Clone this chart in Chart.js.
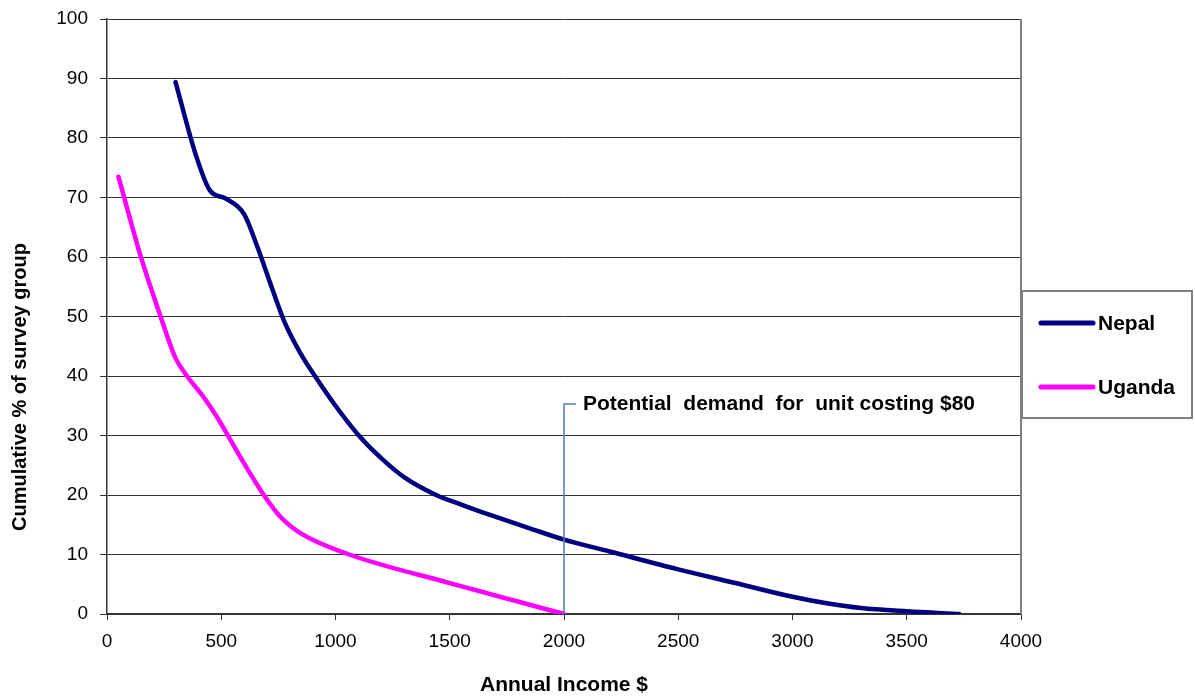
<!DOCTYPE html>
<html>
<head>
<meta charset="utf-8">
<script src="https://cdn.jsdelivr.net/npm/chart.js@4"></script>
<style>
  html, body { margin: 0; padding: 0; background: #fff; }
  #wrap { width: 1195px; height: 699px; }
</style>
</head>
<body>
<div id="wrap"><canvas id="c" width="1195" height="699"></canvas></div>
<script>
// income ($) vs cumulative % of survey group
const nepalIncome = [300, 390, 450, 520, 600, 660, 720, 780, 850, 910, 1000, 1100, 1200, 1300, 1440, 1550, 1680, 1850, 2000, 2200, 2500, 2750, 3000, 3150, 3300, 3500, 3730];
const nepalPct    = [89.4, 77, 71.2, 69.8, 67.2, 61.5, 55, 48.8, 43.6, 40, 35, 30.1, 26.2, 23, 20, 18.4, 16.6, 14.4, 12.5, 10.5, 7.5, 5.2, 2.9, 1.8, 1, 0.45, 0];

const ugandaIncome = [50, 150, 230, 300, 350, 420, 480, 580, 690, 760, 850, 1060, 1500, 2000];
const ugandaPct    = [73.5, 59.8, 50.5, 43, 40, 36.6, 33.2, 26.6, 19.8, 16.3, 13.5, 10, 5.2, 0];

const seriesNames = ['Nepal', 'Uganda'];
const seriesColors = ['#000080', '#ff00ff'];

const xTicks = [0, 500, 1000, 1500, 2000, 2500, 3000, 3500, 4000];
const yTicks = [0, 10, 20, 30, 40, 50, 60, 70, 80, 90, 100];

const xTitle = 'Annual Income $';
const yTitle = 'Cumulative % of survey group';

// annotation: marker at $2000 going up to ~35%
const markerIncome = 2000;
const markerTop = 35.3;
const markerText = 'Potential  demand  for  unit costing $80';

const FONT = '"Liberation Sans", Arial, sans-serif';

const toPoints = (xs, ys) => xs.map((x, i) => ({ x: x, y: ys[i] }));

const annotationPlugin = {
  id: 'demandNote',
  afterDatasetsDraw(chart) {
    const { ctx, scales: { x, y }, chartArea } = chart;
    const px = x.getPixelForValue(markerIncome);
    const py0 = y.getPixelForValue(0);
    const py1 = y.getPixelForValue(markerTop);
    ctx.save();
    // right border of the plot area
    ctx.strokeStyle = '#808080';
    ctx.lineWidth = 2;
    ctx.beginPath();
    ctx.moveTo(chartArea.right, chartArea.top);
    ctx.lineTo(chartArea.right, chartArea.bottom);
    ctx.stroke();

    ctx.strokeStyle = '#4a7ebb';
    ctx.lineWidth = 1.5;
    ctx.beginPath();
    ctx.moveTo(px, py0);
    ctx.lineTo(px, py1);
    ctx.lineTo(px + 12, py1);
    ctx.stroke();
    ctx.fillStyle = '#000';
    ctx.font = 'bold 21px ' + FONT;
    ctx.textBaseline = 'middle';
    ctx.fillText(markerText, px + 19, py1);

    // y axis title, sits a bit below the plot centre like the original
    ctx.font = 'bold 20px ' + FONT;
    ctx.translate(20, 387);
    ctx.rotate(-Math.PI / 2);
    ctx.textAlign = 'center';
    ctx.fillText(yTitle, 0, 0);
    ctx.restore();
  }
};

const legendPlugin = {
  id: 'boxLegend',
  afterDraw(chart) {
    const { ctx } = chart;
    ctx.save();
    ctx.strokeStyle = '#808080';
    ctx.lineWidth = 2;
    ctx.strokeRect(1022, 291, 170, 127);
    ctx.font = 'bold 21px ' + FONT;
    ctx.textBaseline = 'middle';
    ctx.lineCap = 'round';
    chart.data.datasets.forEach((ds, i) => {
      const ly = 323 + i * 64;
      ctx.strokeStyle = ds.borderColor;
      ctx.lineWidth = 5;
      ctx.beginPath();
      ctx.moveTo(1041, ly);
      ctx.lineTo(1093, ly);
      ctx.stroke();
      ctx.fillStyle = '#000';
      ctx.fillText(ds.label, 1098, ly + 1);
    });
    ctx.restore();
  }
};

new Chart(document.getElementById('c'), {
  type: 'scatter',
  data: {
    datasets: [
      {
        label: seriesNames[0],
        data: toPoints(nepalIncome, nepalPct),
        borderColor: seriesColors[0],
        backgroundColor: seriesColors[0],
        borderWidth: 4.5,
        showLine: true,
        pointRadius: 0,
        cubicInterpolationMode: 'monotone',
        borderCapStyle: 'round'
      },
      {
        label: seriesNames[1],
        data: toPoints(ugandaIncome, ugandaPct),
        borderColor: seriesColors[1],
        backgroundColor: seriesColors[1],
        borderWidth: 4.5,
        showLine: true,
        pointRadius: 0,
        cubicInterpolationMode: 'monotone',
        borderCapStyle: 'round'
      }
    ]
  },
  options: {
    responsive: false,
    animation: false,
    layout: { padding: { left: 0, top: 19, right: 174, bottom: 0 } },
    plugins: {
      legend: { display: false },
      tooltip: { enabled: false }
    },
    scales: {
      x: {
        type: 'linear',
        min: 0,
        max: 4000,
        afterBuildTicks: axis => { axis.ticks = xTicks.map(v => ({ value: v })); },
        afterFit: axis => { axis.height = 85; axis.paddingLeft = 0; axis.paddingRight = 0; },
        border: { display: true, color: '#333', width: 1.5 },
        grid: { drawOnChartArea: false, drawTicks: true, tickLength: 6, color: '#333' },
        ticks: {
          color: '#000',
          padding: 10,
          maxRotation: 0,
          callback: v => String(v),
          font: { family: FONT, size: 19 }
        },
        title: {
          display: true,
          text: xTitle,
          color: '#000',
          padding: { top: 0, bottom: 1 },
          font: { family: FONT, size: 21, weight: 'bold' }
        }
      },
      y: {
        type: 'linear',
        min: 0,
        max: 100,
        afterBuildTicks: axis => { axis.ticks = yTicks.map(v => ({ value: v })); },
        afterFit: axis => { axis.width = 107; axis.paddingTop = 0; axis.paddingBottom = 0; },
        border: { display: true, color: '#333', width: 1.5 },
        grid: { color: '#333', lineWidth: 1, drawTicks: true, tickLength: 7 },
        ticks: {
          color: '#000',
          padding: 12,
          callback: v => String(v),
          font: { family: FONT, size: 19 }
        },
        title: { display: false }
      }
    }
  },
  plugins: [annotationPlugin, legendPlugin]
});
</script>
</body>
</html>
